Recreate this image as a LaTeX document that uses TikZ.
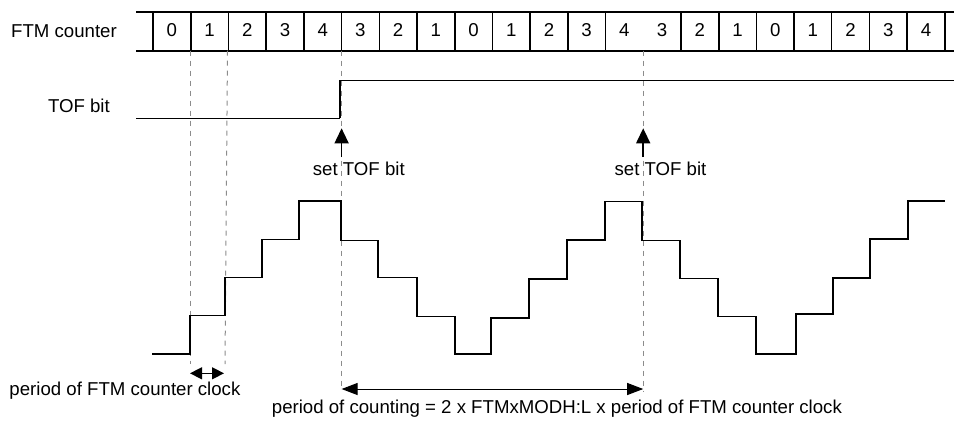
\documentclass[tikz,border=0pt]{standalone}
\usepackage{fontspec}
\setmainfont{Liberation Sans}
\usetikzlibrary{arrows.meta}
\tikzset{
  lbl/.style={inner sep=0pt, font=\fontsize{18.7}{21}\selectfont},
  boxline/.style={line width=1.7bp, black},
  thindiv/.style={line width=0.7bp, black},
  guide/.style={line width=1bp, gray!90, dash pattern=on 5bp off 5bp},
  wave/.style={line width=1.8bp, black, line join=miter},
  tof/.style={line width=1bp, black},
  setarrow/.style={line width=1.5bp, -{Triangle[length=15bp,width=14bp]}},
  spanarrow/.style={line width=1bp, {Triangle[length=16bp,width=12bp]}-{Triangle[length=16bp,width=12bp]}},
  smallarrow/.style={line width=1.3bp, {Triangle[length=12bp,width=12bp]}-{Triangle[length=12bp,width=12bp]}}
}
\begin{document}
\begin{tikzpicture}[x=1bp,y=-1bp]
\useasboundingbox (0,0) rectangle (954,424);
% counter strip
\draw[boxline] (136,12) -- (954,12);
\draw[boxline] (136,50.7) -- (954,50.7);
\foreach \k in {0,1,2,3,4,5,7,8,9,10,11,12,14,15,16,17,20,21}{
  \draw[boxline] ({153+37.71*\k},12) -- ({153+37.71*\k},50.7);
}
\foreach \k in {6,18,19}{
  \draw[thindiv] ({153+37.71*\k},12) -- ({153+37.71*\k},50.7);
}
\foreach \v [count=\i from 0] in {0,1,2,3,4,3,2,1,0,1,2,3,4,3,2,1,0,1,2,3,4}{
  \node[lbl, anchor=base] (c\i) at ({153+37.71*\i+18.85},36.7) {\v};
}
\node[lbl, anchor=base west] (ftm) at (11,37.7) {FTM counter};
% guides
\coordinate (g1t) at (190.7,50.7); \coordinate (g1b) at (190.7,364);
\coordinate (g2t) at (227.5,50.7); \coordinate (g2b) at (225,364);
\coordinate (g3t) at (341.6,50.7); \coordinate (g3b) at (341.6,389);
\coordinate (g4t) at (643.2,50.7); \coordinate (g4b) at (643.2,391);
\draw[guide] (g1t) -- (g1b);
\draw[guide] (g2t) -- (g2b);
\draw[guide] (g3t) -- (g3b);
\draw[guide] (g4t) -- (g4b);
% TOF bit
\node[lbl, anchor=base east] (tofl) at (110,112.5) {TOF bit};
\draw[tof] (136,118.3) -- (340,118.3);
\draw[line width=1.6bp] (340,118.3) -- (340,80);
\draw[tof] (339.3,80) -- (954,80);
% set TOF bit
\node[lbl, anchor=base west] (set1) at (312.7,175) {set TOF bit};
\node[lbl, anchor=base west] (set2) at (614.4,175) {set TOF bit};
\coordinate (a1s) at (341.6,157); \coordinate (a1e) at (341.6,128.3);
\coordinate (a2s) at (643.2,157); \coordinate (a2e) at (643.2,128.3);
\draw[setarrow] (a1s) -- (a1e);
\draw[setarrow] (a2s) -- (a2e);
% staircase
\draw[wave] (152,354) -- (189.7,354) -- (189.7,315.5) -- (225,315.5) -- (225,277.5)
  -- (261.7,277.5) -- (261.7,239.5) -- (299.3,239.5) -- (299.3,201) -- (340.7,201)
  -- (340.7,240.5) -- (377.7,240.5) -- (377.7,277.5) -- (416.7,277.5) -- (416.7,316.5)
  -- (455,316.5) -- (455,354) -- (491,354) -- (491,318) -- (529,318) -- (529,279.3)
  -- (566.7,279.3) -- (566.7,240) -- (604.7,240) -- (604.7,201.5) -- (642,201.5)
  -- (642,240.5) -- (680,240.5) -- (680,278.5) -- (718.3,278.5) -- (718.3,316.5)
  -- (755.7,316.5) -- (755.7,354) -- (796,354) -- (796,314) -- (832.7,314)
  -- (832.7,277.7) -- (870,277.7) -- (870,239.3) -- (907.7,239.3) -- (907.7,201)
  -- (945,201);
% period arrows
\coordinate (p1) at (190,373.3); \coordinate (p2) at (224,373.3);
\draw[smallarrow] (p1) -- (p2);
\node[lbl, anchor=base west] (pclk) at (9.3,395) {period of FTM counter clock};
\coordinate (q1) at (341.6,389); \coordinate (q2) at (643.2,389);
\draw[spanarrow] (q1) -- (q2);
\node[lbl, anchor=base west] (pcnt) at (271.7,413.3) {period of counting = 2 x FTMxMODH:L x period of FTM counter clock};
\end{tikzpicture}
\end{document}
